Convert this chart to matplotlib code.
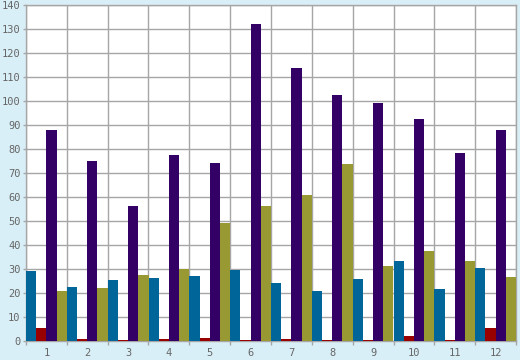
import matplotlib
matplotlib.use("Agg")
import matplotlib.pyplot as plt
import numpy as np

categories = ["1", "2", "3", "4", "5", "6", "7", "8", "9", "10", "11", "12"]
series_blue = [29.1, 22.4, 25.3, 26.2, 27.0, 29.5, 24.1, 20.7, 25.7, 33.3, 21.6, 30.3]
series_red = [5.3, 0.7, 0.3, 0.7, 1.1, 0.3, 0.7, 0.3, 0.3, 1.9, 0.3, 5.3]
series_purple = [88.0, 75.0, 56.2, 77.5, 74.2, 132.2, 113.8, 102.6, 99.2, 92.5, 78.3, 88.0]
series_olive = [20.7, 22.0, 27.4, 29.9, 49.1, 56.2, 60.8, 73.8, 31.2, 37.4, 33.3, 26.6]
y_ticks = list(range(0, 141, 10))

series = [series_blue, series_red, series_purple, series_olive]
colors = ["#006699", "#990000", "#330066", "#999933"]

bg = "#D9EFF7"
fig = plt.figure(figsize=(5.2, 3.6), dpi=100, facecolor=bg)
ax = fig.add_axes([26/520, 19/360, 490/520, 336/360])
ax.set_facecolor("white")

n = len(categories)
x = np.arange(n)
w = 0.25
for i, (vals, c) in enumerate(zip(series, colors)):
    ax.bar(x - 0.5 + w*(i + 0.5), vals, width=w, color=c, zorder=3, linewidth=0)

ax.set_xlim(-0.5, n - 0.5)
ax.set_ylim(0, 140)
ax.set_yticks(y_ticks)
ax.set_xticks(x)
ax.set_xticklabels(categories)
ax.set_xticks(np.arange(n + 1) - 0.5, minor=True)

grid_c = "#A6A6A6"
ax.grid(True, axis="y", color=grid_c, linewidth=1, zorder=1)
ax.grid(True, axis="x", which="minor", color=grid_c, linewidth=1, zorder=1)
ax.grid(False, axis="x", which="major")
for s in ax.spines.values():
    s.set_color(grid_c)
    s.set_linewidth(1)

ax.tick_params(axis="x", which="major", length=0, pad=5, labelcolor="#666666", labelsize=7.5)
ax.tick_params(axis="x", which="minor", length=3, color=grid_c, width=1)
ax.tick_params(axis="y", length=2.5, width=1, color=grid_c, pad=1.5, labelcolor="#666666", labelsize=7.5)
for lab in ax.get_xticklabels() + ax.get_yticklabels():
    lab.set_family("DejaVu Sans Mono")

fig.savefig("out.png", dpi=100, facecolor=bg)
